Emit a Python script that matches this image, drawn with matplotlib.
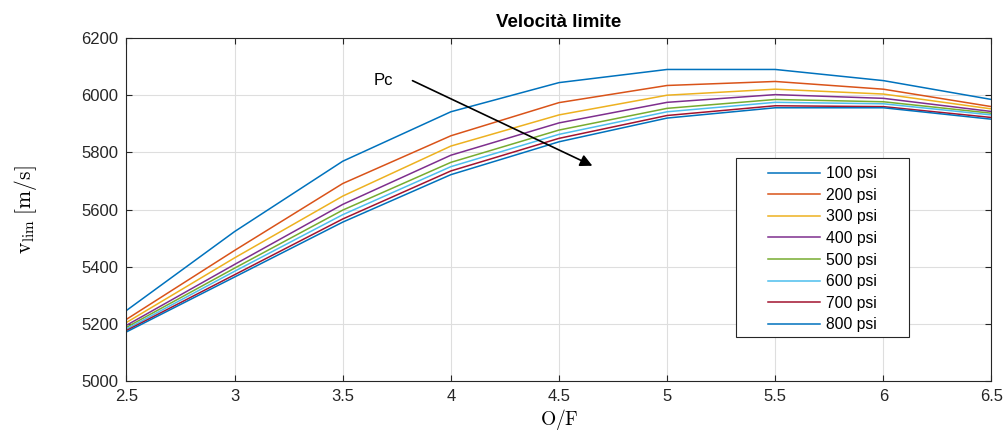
import matplotlib
matplotlib.use("Agg")
import matplotlib.pyplot as plt
from matplotlib.patches import Rectangle

of_ratio = [2.5, 3.0, 3.5, 4.0, 4.5, 5.0, 5.5, 6.0, 6.5]
labels = ["100 psi", "200 psi", "300 psi", "400 psi", "500 psi", "600 psi", "700 psi", "800 psi"]
v_100 = [5247, 5523, 5769, 5942, 6044, 6090, 6090, 6051, 5985]
v_200 = [5216, 5457, 5691, 5858, 5974, 6034, 6048, 6021, 5960]
v_300 = [5205, 5431, 5647, 5822, 5931, 6000, 6021, 6004, 5952]
v_400 = [5195, 5408, 5618, 5790, 5903, 5975, 6002, 5989, 5943]
v_500 = [5188, 5395, 5598, 5765, 5878, 5954, 5985, 5977, 5937]
v_600 = [5182, 5384, 5582, 5750, 5863, 5942, 5975, 5970, 5931]
v_700 = [5177, 5372, 5567, 5735, 5849, 5929, 5963, 5960, 5922]
v_800 = [5172, 5364, 5556, 5722, 5837, 5920, 5956, 5956, 5916]
series = [v_100, v_200, v_300, v_400, v_500, v_600, v_700, v_800]
colors = ["#0072BD", "#D95319", "#EDB120", "#7E2F8E", "#77AC30", "#4DBEEE", "#A2142F", "#0072BD"]

plt.rcParams['font.family'] = ['Liberation Sans', 'DejaVu Sans']
plt.rcParams['mathtext.fontset'] = 'cm'

fig = plt.figure(figsize=(10.07, 4.37), dpi=100)
ax = fig.add_axes([0.1256, 0.128, 0.859, 0.785])

for vals, lab, c in zip(series, labels, colors):
    ax.plot(of_ratio, vals, color=c, lw=1.1, label=lab)

ax.set_xlim(2.5, 6.5)
ax.set_ylim(5000, 6200)
ax.set_xticks([2.5, 3, 3.5, 4, 4.5, 5, 5.5, 6, 6.5])
ax.set_xticklabels(["2.5", "3", "3.5", "4", "4.5", "5", "5.5", "6", "6.5"])
ax.set_yticks(range(5000, 6201, 200))
ax.grid(True, color="#dedede", lw=0.8)
ax.tick_params(direction='in', top=True, right=True, labelsize=12, colors='#262626', length=4)
ax.tick_params(axis='x', pad=6)
ax.tick_params(axis='y', pad=6)
for s in ax.spines.values():
    s.set_color('#262626')
    s.set_linewidth(0.8)

ax.set_title("Velocità limite", fontsize=13.5, fontweight='bold', pad=8)
ax.set_xlabel(r"$\mathrm{O/F}$", fontsize=14, labelpad=2)
ax.set_ylabel(r"$\mathrm{v_{lim}}\;[\mathrm{m/s}]$", fontsize=15.5, labelpad=30)

ax.annotate("", xy=(4.666, 5749), xytext=(3.811, 6055),
            arrowprops=dict(arrowstyle="-|>", color="black", lw=1.2, mutation_scale=18))
ax.text(3.686, 6053, "Pc", fontsize=12, ha='center', va='center')

ax.add_patch(Rectangle((0.7046, 0.1274), 0.905 - 0.7046, 0.6493 - 0.1274,
                       transform=ax.transAxes, facecolor='white', edgecolor='#262626',
                       lw=0.8, zorder=4))
leg = ax.legend(loc='center', bbox_to_anchor=(0.8046, 0.3843), fontsize=11.3,
                handlelength=3.3, labelspacing=0.42, frameon=False,
                borderpad=0.0, handletextpad=0.38)
leg.set_zorder(5)

fig.savefig("out.png", dpi=100, facecolor='white')
